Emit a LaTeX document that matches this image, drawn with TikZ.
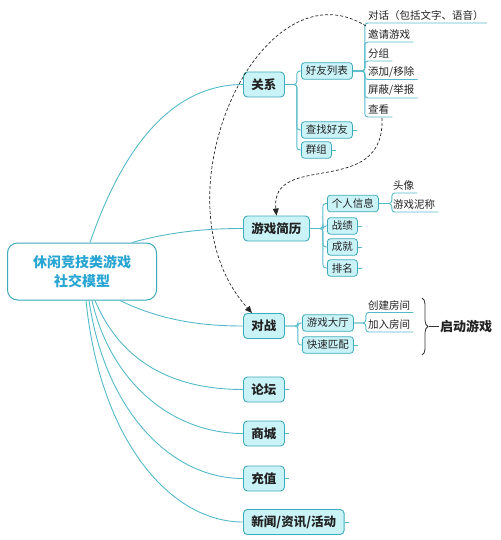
\documentclass[tikz,border=0pt]{standalone}
\usepackage{fontspec}
\setmainfont{Noto Sans CJK SC}
\usetikzlibrary{arrows.meta,decorations.pathreplacing,calc}
\definecolor{ln}{RGB}{84,186,200}
\definecolor{bd}{RGB}{62,170,186}
\definecolor{tf}{RGB}{202,243,248}
\definecolor{tx}{RGB}{34,34,34}
\definecolor{maintx}{RGB}{40,165,210}
\begin{document}
\begin{tikzpicture}[x=1pt,y=-1pt,
  conn/.style={draw=ln,line width=0.9pt},
  elbow/.style={conn,rounded corners=3pt},
  mainbox/.style={draw=bd,line width=1pt,fill=white,rounded corners=10pt,minimum width=149pt,minimum height=57pt,align=center,text=maintx,font=\fontsize{14}{19}\selectfont\bfseries},
  topic/.style={draw=bd,line width=0.9pt,fill=tf,rounded corners=4pt,minimum height=25pt,inner xsep=8pt,anchor=west,font=\fontsize{12.5}{14}\selectfont\bfseries,text=tx},
  sub/.style={draw=bd,line width=0.8pt,fill=tf,rounded corners=3pt,minimum height=16.5pt,inner xsep=4.5pt,inner ysep=1pt,anchor=west,font=\fontsize{10.5}{12}\selectfont,text=tx},
  leaf/.style={anchor=south west,inner xsep=3pt,inner ysep=2pt,font=\fontsize{10.5}{12}\selectfont,text=tx},
  rel/.style={draw=black!85,dash pattern=on 3pt off 2pt,line width=0.7pt,-{Triangle[length=7pt,width=6pt]}}]
\path[use as bounding box] (0,0) rectangle (500,540);

% main and level-1
\node[mainbox] (main) at (82,271.5) {休闲竞技类游戏\\社交模型};
\node[topic] (gx) at (243,84.5) {关系};
\node[topic] (jl) at (243,228.5) {游戏简历};
\node[topic] (dz) at (243,326) {对战};
\node[topic] (lt) at (243,389.5) {论坛};
\node[topic] (sc) at (243,433.5) {商城};
\node[topic] (chz) at (243,478.5) {充值};
\node[topic] (xw) at (243,522) {新闻/资讯/活动};

% main connectors
\draw[conn] ($(main.north west)+(83,0)$) .. controls (115,170) and (160,84.5) .. (gx.west);
\draw[conn] ($(main.north west)+(125,0)$) .. controls (170,232) and (205,228.5) .. (jl.west);
\draw[conn] ($(main.south west)+(113,0)$) .. controls (160,320) and (200,326) .. (dz.west);
\draw[conn] ($(main.south west)+(88,0)$) .. controls (120,360) and (170,389.5) .. (lt.west);
\draw[conn] ($(main.south west)+(85,0)$) .. controls (110,380) and (170,433.5) .. (sc.west);
\draw[conn] ($(main.south west)+(82,0)$) .. controls (105,410) and (170,478.5) .. (chz.west);
\draw[conn] ($(main.south west)+(79,0)$) .. controls (100,440) and (170,522) .. (xw.west);

% level-2
\node[sub] (hy) at (301,71) {好友列表};
\node[sub] (czhy) at (301,130) {查找好友};
\node[sub] (qz) at (301,150) {群组};
\node[sub] (gr) at (327,203.5) {个人信息};
\node[sub] (zj) at (327,226) {战绩};
\node[sub] (cj) at (327,247) {成就};
\node[sub] (pm) at (327,268) {排名};
\node[sub] (dt) at (302,323) {游戏大厅};
\node[sub] (ks) at (302,345) {快速匹配};

\foreach \c in {hy,czhy,qz} \draw[elbow] (gx.east) -- ++(12,0) |- (\c.west);
\foreach \c in {gr,zj,cj,pm} \draw[elbow] (jl.east) -- ++(13,0) |- (\c.west);
\foreach \c in {dt,ks} \draw[elbow] (dz.east) -- ++(13,0) |- (\c.west);

% stubs
\foreach \c in {lt,sc,chz,xw,czhy,qz,zj,cj,pm,ks} \draw[conn] (\c.east) -- ++(4,0);

% leaves
\node[leaf] (l1) at (365,23) {对话（包括文字、语音）};
\node[leaf] (l2) at (365,42) {邀请游戏};
\node[leaf] (l3) at (365,61) {分组};
\node[leaf] (l4) at (365,79.5) {添加/移除};
\node[leaf] (l5) at (365,98) {屏蔽/举报};
\node[leaf] (l6) at (365,117) {查看};
\foreach \c in {l1,l2,l3,l4,l5,l6} \draw[elbow] (hy.east) -- ++(12,0) |- (\c.south east);

\node[leaf] (tx1) at (390,193) {头像};
\node[leaf] (tx2) at (390,212) {游戏泥称};
\foreach \c in {tx1,tx2} \draw[elbow] (gr.east) -- ++(13,0) |- (\c.south east);

\node[leaf] (fj1) at (365,312.5) {创建房间};
\node[leaf] (fj2) at (365,332) {加入房间};
\foreach \c in {fj1,fj2} \draw[elbow] (dt.east) -- ++(12,0) |- (\c.south east);

% summary brace
\draw[draw=black!80,line width=0.8pt,decorate,decoration={brace,amplitude=6pt}] (422,298) -- (422,355);
\coordinate (bt) at (429,326.5);
\node[anchor=west,inner sep=1pt,font=\fontsize{13}{15}\selectfont\bfseries,text=tx] (qd) at (439,326.5) {启动游戏};
\draw[draw=black!80,line width=0.8pt] (bt) -- (qd.west);

% relationships
\draw[rel] ($(l1.south west)+(1,3)$) .. controls (260,-40) and (150,200) .. ($(dz.north west)+(9,0)$);
\draw[rel] ($(l6.south west)+(17,1)$) .. controls (385,200) and (270,150) .. (jl.north);
\end{tikzpicture}
\end{document}
